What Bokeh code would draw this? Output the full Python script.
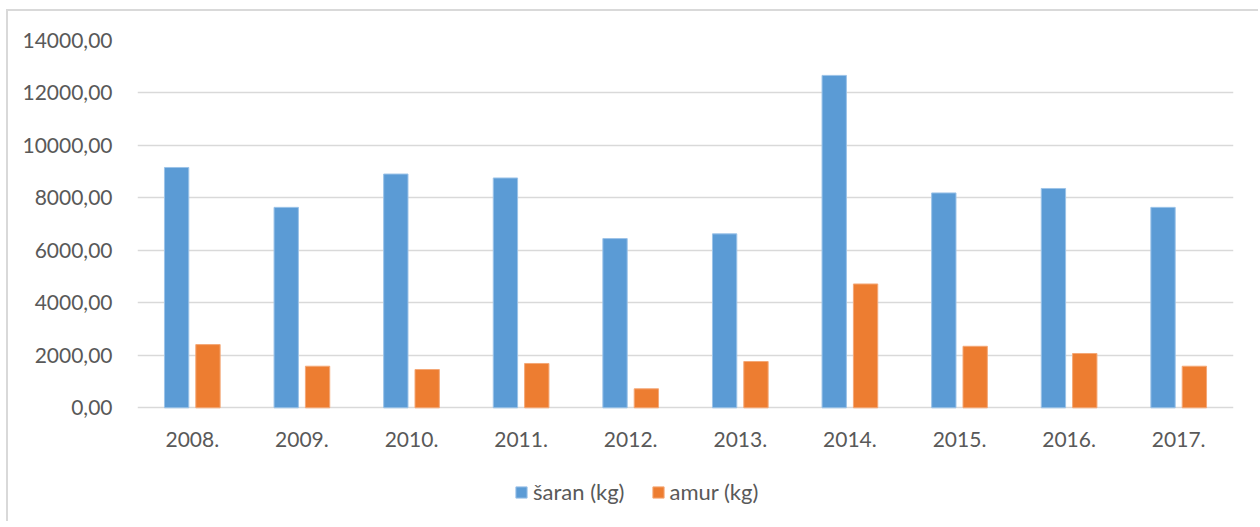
from bokeh.plotting import figure
from bokeh.models import FactorRange, Range1d, FixedTicker, Legend, LegendItem, ColumnDataSource
from bokeh.transform import dodge
from bokeh.embed import file_html
from bokeh.resources import INLINE

years = ["2008.", "2009.", "2010.", "2011.", "2012.", "2013.", "2014.", "2015.", "2016.", "2017."]
saran = [9160, 7640, 8910, 8760, 6450, 6630, 12670, 8190, 8360, 7640]
amur = [2410, 1585, 1460, 1690, 725, 1765, 4720, 2345, 2070, 1585]
y_ticks = [0, 2000, 4000, 6000, 8000, 10000, 12000, 14000]
y_labels = ["0,00", "2000,00", "4000,00", "6000,00", "8000,00", "10000,00", "12000,00", "14000,00"]
series_names = ["šaran (kg)", "amur (kg)"]
colors = ["#5B9BD5", "#ED7D31"]

FONT = "Lato"
TXT = "#595959"

src = ColumnDataSource(dict(years=years, saran=saran, amur=amur))

W, H = 1252, 512
p = figure(
    x_range=FactorRange(*years, range_padding=0),
    y_range=Range1d(-4219, 14000),
    width=W, height=H,
    output_backend="svg", toolbar_location=None,
    min_border_left=129, min_border_right=W - 1225, min_border_top=29, min_border_bottom=5,
)
p.styles = {"margin-left": "6px", "margin-top": "9px",
            "border-left": "2px solid #d9d9d9", "border-top": "2px solid #d9d9d9"}
p.outline_line_color = None
p.background_fill_color = "white"

r1 = p.vbar(x=dodge("years", -0.143, range=p.x_range), top="saran", width=0.222, source=src,
            fill_color=colors[0], line_color="#9cc3e8", line_width=1)
r2 = p.vbar(x=dodge("years", 0.143, range=p.x_range), top="amur", width=0.222, source=src,
            fill_color=colors[1], line_color="#f4a877", line_width=1)

p.yaxis.ticker = FixedTicker(ticks=y_ticks)
p.yaxis.major_label_overrides = {t: l for t, l in zip(y_ticks, y_labels)}
p.ygrid.ticker = FixedTicker(ticks=y_ticks)
p.ygrid.grid_line_color = "#d9d9d9"
p.ygrid.grid_line_width = 1.3
p.xgrid.grid_line_color = None
p.xaxis.fixed_location = 0

for ax in (p.xaxis, p.yaxis):
    ax.axis_line_color = None
    ax.major_tick_line_color = None
    ax.minor_tick_line_color = None
    ax.major_label_text_font = FONT
    ax.major_label_text_font_size = "21px"
    ax.major_label_text_color = TXT
p.yaxis.major_label_standoff = 19
p.xaxis.major_label_standoff = 18

legend = Legend(
    items=[LegendItem(label=series_names[0], renderers=[r1]),
           LegendItem(label=series_names[1], renderers=[r2])],
    orientation="horizontal", location=(377, 13),
    label_text_font=FONT, label_text_font_size="22px", label_text_color=TXT,
    glyph_width=14, glyph_height=14, label_standoff=5, spacing=26,
    border_line_color=None, background_fill_alpha=0, padding=0, margin=0,
)
p.add_layout(legend, "center")

open("out.html", "w").write(file_html(p, INLINE))
